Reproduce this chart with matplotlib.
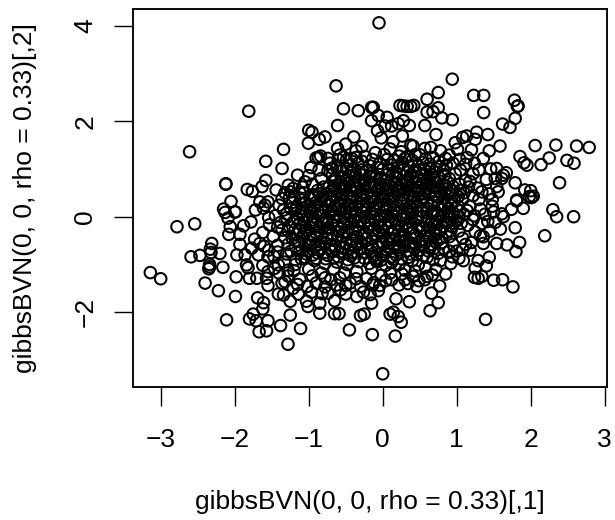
import matplotlib
matplotlib.use("Agg")
import matplotlib.pyplot as plt

plt.rcParams['font.family'] = ['Liberation Sans', 'DejaVu Sans']

x_ticks = [-3, -2, -1, 0, 1, 2, 3]
y_ticks = [-2, 0, 2, 4]
x_label = "gibbsBVN(0, 0, rho = 0.33)[,1]"
y_label = "gibbsBVN(0, 0, rho = 0.33)[,2]"

upper_left = [(-0.63,2.74),(-1.81,2.21),(-2.61,1.36),(-0.53,2.26),(-0.33,2.22),(-0.15,2.29),(-0.15,2.01),(-0.61,1.91),
(-1.0,1.81),(-0.955,1.77),(-0.78,1.67),(-0.857,1.62),(-1.005,1.54),(-0.39,1.67),(-1.34,1.41),(-0.61,1.43),(-0.50,1.52),
(-0.28,1.47),(-1.58,1.16),(-1.36,1.01),(-1.58,0.76),(-1.63,0.63),(-1.83,0.57),(-1.76,0.53),(-2.12,0.69),(-2.12,0.68),
(-2.05,0.32),(-1.15,0.87),(-1.05,0.73),(-1.275,0.66),(-1.21,0.59),(-1.32,0.50),(-1.24,0.52),(-0.97,1.03),(-0.87,1.24),
(-0.90,1.23),(-0.84,1.27),(-0.71,1.12),(-0.60,1.19),(-0.53,1.25),(-0.58,1.29),(-0.49,1.19),(-0.98,0.39),(-1.10,0.35),
(-1.34,0.14),(-1.18,0.14),(-1.66,0.31),(-1.55,0.31),(-1.72,0.14),(-1.61,0.18),(-2.0,0.1)]

upper_right = [(-0.05,4.06),(0.94,2.88),(0.75,2.60),(1.23,2.54),(1.365,2.54),(1.78,2.44),(1.83,2.32),(1.82,2.31),(1.365,2.18),
(0.60,2.46),(0.75,2.28),(0.60,2.19),(0.68,2.20),(0.80,2.07),(0.94,2.03),(0.57,1.91),(0.72,1.72),(0.234,2.33),(0.28,2.32),
(0.33,2.31),(0.38,2.31),(0.42,2.33),(-0.127,2.29),(0.06,2.08),(-0.06,2.12),(0.28,2.01),(0.36,1.91),(0.21,1.95),(0.12,1.90),
(0.03,1.90),(-0.07,1.80),(-0.02,1.65),(0.265,1.69),(0.14,1.57),(0.41,1.48),(0.38,1.50),(0.25,1.36),(0.57,1.43),(0.65,1.45),
(1.62,1.94),(1.72,1.87),(1.79,2.06),(1.42,1.72),(1.27,1.77),(1.135,1.69),(1.08,1.66),(1.25,1.62),(0.98,1.55),(1.01,1.41),
(1.20,1.40),(1.585,1.48),(1.44,1.38),(0.90,1.29),(1.855,1.26),(1.91,1.13),(1.95,1.08),(2.14,1.09),(2.25,1.23),(2.06,1.49),
(2.34,1.50),(2.62,1.48),(2.79,1.45),(2.49,1.18),(2.585,1.12),(2.39,0.71),(1.79,0.71),(1.54,1.01),(1.67,0.92),(1.63,0.87),
(1.61,0.80),(1.56,0.52),(1.54,0.63),(1.92,0.56),(2.0,0.545),(2.035,0.43),(1.98,0.42),(1.81,0.35)]

lower_right = [(2.58,0.0),(2.30,0.147),(2.35,0.0),(2.19,-0.40),(2.01,0.40),(1.90,0.175),(1.74,0.155),(1.81,0.33),(1.63,0.0),
(1.61,0.06),(1.79,-0.23),(1.59,-0.26),(1.85,-0.54),(1.68,-0.59),(1.54,-0.56),(1.80,-0.73),(1.36,-0.56),(1.18,-0.70),(1.44,-0.85),
(1.29,-0.92),(1.40,-1.03),(1.09,-0.92),(1.03,-0.87),(0.94,-0.84),(0.85,-1.20),(1.25,-1.08),(1.24,-1.27),(1.29,-1.29),(1.34,-1.25),
(1.50,-1.33),(1.62,-1.32),(1.76,-1.47),(0.77,-1.45),(0.66,-1.60),(0.75,-1.80),(0.64,-1.97),(1.39,-2.15),(0.36,-1.78),(0.18,-1.72),
(0.22,-1.43),(-0.06,-1.55),(0.04,-1.34),(0.10,-2.04),(0.145,-2.0),(0.21,-2.09),(0.25,-2.21),(0.17,-2.50),(-0.14,-2.47),(0.0,-3.29),
(-0.15,-1.81),(-0.135,-1.43),(0.50,-0.70),(0.75,-0.77),(0.68,-0.90),(0.48,-1.01),(0.57,-1.32),(0.49,-1.34),(0.67,-1.22),(0.60,-1.25),
(0.41,-1.25),(-0.45,-2.37),(-0.17,-1.63)]

lower_left = [(-3.14,-1.17),(-3.0,-1.30),(-2.78,-0.21),(-2.54,-0.15),(-2.59,-0.84),(-2.47,-0.81),(-2.31,-0.56),(-2.33,-0.68),
(-2.32,-0.75),(-2.20,-0.77),(-2.34,-1.0),(-2.35,-1.09),(-2.34,-1.05),(-2.16,-1.06),(-2.40,-1.39),(-2.22,-1.55),(-1.98,-1.26),
(-1.99,-1.67),(-2.11,-2.16),(-1.80,-2.14),(-1.75,-2.04),(-1.71,-2.18),(-1.55,-2.18),(-1.67,-2.41),(-1.57,-2.39),(-1.38,-2.28),
(-1.11,-2.34),(-1.28,-2.67),(-1.25,-2.06),(-1.62,-1.93),(-1.61,-1.80),(-1.69,-1.70),(-1.25,-1.77),(-1.99,0.10),
(-2.15,0.16),(-2.13,0.09),(-2.09,-0.03),(-2.06,-0.21),(-2.08,-0.37),(-1.88,-0.19),(-1.78,-0.11),(-1.53,-0.17),(-1.93,-0.37),
(-1.93,-0.58),(-1.97,-0.80),(-1.86,-0.80),(-1.68,-0.80),(-1.55,-0.84),(-1.84,-1.01),(-1.82,-1.07),(-1.80,-1.29),(-1.70,-1.29),
(-1.57,-1.29),(-1.55,-1.44),(-1.41,-1.62),(-1.34,-1.64),(-1.55,-1.15),(-1.41,-1.01),(-1.36,-1.39),(-1.21,-1.50),(-1.03,-1.77),
(-1.01,-1.88),(-0.85,-1.81),(-0.85,-2.02),(-0.82,-1.61),(-0.65,-1.76),(-0.65,-2.03),(-0.59,-2.03),(-0.30,-2.07),
(-0.25,-2.04),(-0.35,-1.67),(-0.50,-1.62),(-0.57,-1.53),(-1.59,0.24)]

fringe = [(-1.45,0.02),(-1.38,-0.12),(-1.62,-0.33),(-1.48,-0.41),(-1.73,-0.47),(-1.42,-0.60),(-1.60,-0.62),(-1.77,-0.66),(-1.30,-0.78),
(-1.47,-0.83),(-1.33,-0.95),(-1.20,-1.13),(-1.28,-1.24),(-1.12,-1.31),(-1.02,-1.46),(-0.90,-1.39),(-0.78,-1.47),(-0.70,-1.32),
(-0.62,-1.43),(-0.44,-1.39),(-0.30,-1.46),(-0.22,-1.30),(-0.02,-1.23),(0.10,-1.18),(0.30,-1.12),(0.82,-0.66),(0.95,-0.58),(1.08,-0.45),
(1.25,-0.32),(1.34,-0.14),(1.45,-0.30),(1.38,0.05),(1.48,0.22),(1.30,0.36),(1.44,0.48),(1.28,0.60),(1.40,0.78),(1.22,0.90),(1.12,0.76),
(1.05,0.98),(0.86,1.08),(0.95,1.12),(0.76,1.16),(0.58,1.21),(0.40,1.18),(0.22,1.27),(0.06,1.20),(-0.10,1.34),(-0.24,1.26),(-0.36,1.38),
(-0.44,1.08),(-0.74,0.96),(-0.83,0.80),(-0.95,0.68),(-1.12,0.50),(-0.88,0.55),(-1.02,0.22),(-1.22,0.30),(-1.15,-0.05),(-1.28,-0.30),
(1.10,0.50),(1.18,0.22),(1.10,0.05),(1.15,-0.18),(1.03,-0.30),(0.90,-0.42),(0.72,-0.52),(0.60,-0.85),(0.35,-0.85),(0.22,-1.00),(0.04,-1.02),
(-0.15,-1.08),(-0.35,-1.15),(-0.52,-1.18),(-0.66,-1.10),(-0.83,-1.18),(-1.00,-1.10),(-1.10,-0.88)]

center_a = [(-1.05,-0.85),(-0.92,-0.92),(-0.78,-0.98),(-0.62,-0.95),(-0.48,-1.0),(-0.32,-0.94),(-0.18,-0.98),(-0.02,-0.91),(0.12,-0.96),(0.25,-0.88),
(0.40,-0.92),(-1.02,-0.72),(-0.88,-0.76),(-0.74,-0.81),(-0.58,-0.74),(-0.43,-0.82),(-0.27,-0.75),(-0.12,-0.82),(0.04,-0.74),(0.18,-0.80),(0.33,-0.72),
(0.46,-0.79),(0.62,-0.72),(-1.18,-0.62),(-1.05,-0.58),(-0.91,-0.63),(-0.78,-0.56),(-0.64,-0.62),(-0.50,-0.55),(-0.37,-0.63),(-0.21,-0.57),(-0.06,-0.64),
(0.09,-0.56),(0.23,-0.63),(0.38,-0.55),(0.52,-0.62),(0.66,-0.58),(0.80,-0.54),(-1.22,-0.46),(-1.09,-0.42),(-0.96,-0.48),(-0.83,-0.41),(-0.69,-0.47),
(-0.55,-0.40),(-0.41,-0.47),(-0.28,-0.39),(-0.14,-0.46),(0.01,-0.40),(0.15,-0.47),(0.30,-0.40),(0.44,-0.46),(0.58,-0.41),(0.72,-0.38),(0.86,-0.33),
(-1.26,-0.20),(-1.12,-0.28),(-0.99,-0.22),(-0.86,-0.30),(-0.73,-0.24),(-0.60,-0.31),(-0.46,-0.23),(-0.33,-0.30),(-0.19,-0.24),(-0.05,-0.31),(0.08,-0.23),
(0.22,-0.30),(0.36,-0.24),(0.50,-0.30),(0.64,-0.23),(0.78,-0.27),(0.94,-0.21),(-1.06,-0.12),(-0.93,-0.07),(-0.80,-0.14),(-0.66,-0.08),(-0.53,-0.15),
(-0.39,-0.07),(-0.25,-0.14),(-0.11,-0.08),(0.03,-0.15),(0.17,-0.07),(0.31,-0.14),(0.45,-0.08),(0.59,-0.15),(0.73,-0.09),(0.87,-0.13),(1.00,-0.07)]

center_b = [(-1.30,0.06),(-1.13,0.04),(-0.98,0.08),(-0.85,0.02),(-0.71,0.07),(-0.58,0.01),(-0.44,0.08),(-0.30,0.02),(-0.16,0.07),(-0.02,0.01),(0.12,0.08),
(0.26,0.02),(0.40,0.07),(0.54,0.01),(0.68,0.08),(0.82,0.03),(0.96,0.07),(1.24,0.02),(-1.08,0.18),(-0.92,0.22),(-0.78,0.16),(-0.64,0.23),(-0.51,0.17),
(-0.37,0.24),(-0.23,0.16),(-0.09,0.23),(0.05,0.17),(0.19,0.24),(0.33,0.16),(0.47,0.23),(0.61,0.17),(0.75,0.24),(0.89,0.18),(1.02,0.22),(-0.83,0.35),
(-0.70,0.32),(-0.56,0.38),(-0.43,0.31),(-0.29,0.38),(-0.15,0.32),(-0.01,0.39),(0.13,0.31),(0.27,0.38),(0.41,0.32),(0.55,0.39),(0.69,0.31),(0.83,0.38),
(0.97,0.33),(-0.76,0.48),(-0.62,0.52),(-0.48,0.46),(-0.35,0.53),(-0.21,0.47),(-0.07,0.54),(0.07,0.46),(0.21,0.53),(0.35,0.47),(0.49,0.54),(0.63,0.47),
(0.77,0.53),(0.91,0.48),(1.05,0.55),(-0.72,0.64),(-0.58,0.67),(-0.44,0.61),(-0.31,0.68),(-0.17,0.62),(-0.03,0.69),(0.11,0.61),(0.25,0.68),(0.39,0.62),
(0.53,0.69),(0.67,0.62),(0.81,0.68),(0.95,0.63),(-0.64,0.80),(-0.50,0.76),(-0.37,0.83),(-0.23,0.77),(-0.09,0.84),(0.05,0.76),(0.19,0.83),(0.33,0.77),
(0.47,0.84),(0.61,0.78),(0.75,0.84),(0.90,0.80),(-0.56,0.96),(-0.42,0.92),(-0.28,0.98),(-0.14,0.92),(0.00,0.99),(0.14,0.92),(0.28,0.98),(0.42,0.93),
(0.56,0.99),(0.70,0.94),(0.82,0.97),(-0.33,1.12),(-0.18,1.07),(-0.04,1.12),(0.12,1.08),(0.26,1.13),(0.48,1.07),(0.64,1.10)]

center_c = [(-0.98,-0.38),(-0.72,-0.66),(-0.46,-0.70),(-0.20,-0.68),(0.06,-0.70),(0.28,-0.52),(0.54,-0.48),(-1.16,-0.36),(-0.90,-0.15),(-0.62,-0.18),
(-0.34,-0.20),(-0.07,-0.18),(0.20,-0.17),(0.48,-0.19),(0.70,-0.16),(-1.02,-0.02),(-0.76,-0.03),(-0.50,0.10),(-0.24,-0.02),(0.02,0.12),(0.28,-0.03),
(0.52,0.12),(0.78,-0.02),(-0.88,0.12),(-0.58,0.28),(-0.32,0.28),(-0.06,0.28),(0.20,0.12),(0.44,0.28),(0.70,0.12),(0.94,0.28),(-0.66,0.42),(-0.40,0.42),
(-0.12,0.42),(0.16,0.42),(0.42,0.42),(0.72,0.42),(-0.52,0.58),(-0.26,0.58),(0.00,0.58),(0.28,0.58),(0.58,0.58),(0.86,0.58),(-0.46,0.72),(-0.14,0.72),
(0.16,0.72),(0.44,0.72),(0.72,0.72),(-0.30,0.88),(0.06,0.88),(0.38,0.88),(0.66,0.88),(-0.84,-0.52),(-0.56,-0.52),(-0.30,-0.52),(-0.02,-0.52),(0.22,-0.50),
(-0.94,-0.80),(-0.66,-0.86),(-0.38,-0.86),(-0.10,-0.88),(0.12,-0.84),(-0.78,-0.30),(-0.52,-0.34),(-0.24,-0.34),(0.00,-0.30),(0.26,-0.36),(0.60,-0.34)]

center_d = [(-1.03,-0.78),(-0.97,-0.60),(-0.90,-0.87),(-0.83,-0.68),(-0.77,-0.88),(-0.69,-0.73),(-0.60,-0.84),(-0.54,-0.66),(-0.47,-0.90),(-0.40,-0.75),
(-0.34,-0.58),(-0.25,-0.87),(-0.16,-0.72),(-0.08,-0.94),(0.00,-0.82),(0.07,-0.64),(0.14,-0.89),(0.21,-0.70),(0.29,-0.61),(0.37,-0.78),(0.43,-0.66),
(0.55,-0.82),(0.59,-0.52),(0.70,-0.66),(-1.14,-0.52),(-1.06,-0.35),(-0.92,-0.42),(-0.75,-0.46),(-0.61,-0.42),(-0.48,-0.33),(-0.35,-0.42),(-0.22,-0.45),
(-0.09,-0.37),(0.05,-0.50),(0.12,-0.34),(0.25,-0.44),(0.41,-0.33),(0.49,-0.53),(0.63,-0.42),(0.80,-0.44),(0.92,-0.30),(-1.20,-0.10),(-1.08,-0.20),
(-0.96,-0.13),(-0.84,-0.22),(-0.69,-0.16),(-0.56,-0.25),(-0.43,-0.14),(-0.30,-0.10),(-0.17,-0.16),(-0.02,-0.22),(0.11,-0.12),(0.26,-0.20),(0.38,-0.11),
(0.54,-0.24),(0.66,-0.12),(0.81,-0.20),(0.91,-0.05),(1.06,-0.14),(-1.24,0.16),(-1.10,0.10),(-0.94,0.00),(-0.80,0.09),(-0.66,-0.01),(-0.55,0.14),(-0.38,0.00),
(-0.27,0.10),(-0.12,-0.01),(0.07,0.03),(0.15,0.15),(0.33,0.06),(0.47,-0.01),(0.59,0.10),(0.74,0.03),(0.88,0.10),(1.03,0.01),(1.14,0.13),(-1.04,0.30),
(-0.90,0.30),(-0.74,0.24),(-0.60,0.16),(-0.47,0.25),(-0.26,0.24),(-0.13,0.17),(0.02,0.26),(0.24,0.30),(0.37,0.23),(0.52,0.31),(0.66,0.24),(0.80,0.15),
(0.92,0.24),(1.08,0.36),(-0.94,0.46),(-0.81,0.44),(-0.69,0.55),(-0.54,0.46),(-0.42,0.38),(-0.28,0.50),(-0.15,0.40),(-0.02,0.48),(0.11,0.38),(0.26,0.45),
(0.38,0.55),(0.53,0.40),(0.66,0.54),(0.80,0.45),(0.94,0.55),(1.02,0.42),(1.16,0.62),(-0.80,0.62),(-0.65,0.74),(-0.52,0.64),(-0.38,0.74),(-0.24,0.67),(-0.10,0.62),
(0.04,0.66),(0.18,0.56),(0.32,0.72),(0.48,0.62),(0.60,0.72),(0.76,0.62),(0.88,0.72),(1.04,0.68),(-0.68,0.88),(-0.46,0.86),(-0.33,0.74),(-0.18,0.85),(-0.03,0.80),
(0.12,0.74),(0.24,0.88),(0.40,0.82),(0.54,0.88),(0.68,0.82),(0.84,0.88),(0.98,0.90),(-0.62,1.02),(-0.49,1.00),(-0.22,0.96),(-0.07,1.03),(0.08,1.00),(0.21,1.04),
(0.35,1.06),(0.50,0.98),(0.63,1.02),(0.77,1.05),(-0.68,1.02),(-0.36,1.24),(-0.14,1.20),(0.02,1.30),(0.16,1.18),(0.33,1.26),(0.50,1.30),(0.68,1.24),(0.85,1.22)]

center_e = [(-1.12,-0.72),(-1.00,-0.52),(-0.86,-0.58),(-0.70,-0.60),(-0.54,-0.78),(-0.44,-0.60),(-0.30,-0.68),(-0.14,-0.62),(0.00,-0.58),(0.16,-0.62),(0.32,-0.48),
(0.40,-0.62),(0.64,-0.66),(0.76,-0.48),(-1.18,-0.26),(-1.04,-0.28),(-0.90,-0.34),(-0.68,-0.36),(-0.40,-0.32),(-0.12,-0.28),(0.16,-0.28),(0.44,-0.38),(0.70,-0.30),
(0.84,-0.12),(-1.12,-0.14),(-0.76,-0.10),(-0.48,-0.05),(-0.20,-0.08),(0.08,-0.08),(0.38,-0.04),(0.62,-0.05),(0.96,-0.14),(-1.16,0.22),(-0.97,0.16),(-0.68,0.12),
(-0.42,0.14),(-0.10,0.12),(0.10,0.20),(0.40,0.14),(0.66,0.06),(0.84,0.24),(1.04,0.12),(-0.76,0.34),(-0.52,0.32),(-0.20,0.30),(0.08,0.34),(0.34,0.34),(0.60,0.30),
(0.88,0.32),(-0.86,0.48),(-0.58,0.46),(-0.30,0.44),(0.02,0.42),(0.30,0.52),(0.56,0.48),(0.84,0.50),(-0.64,0.60),(-0.36,0.60),(-0.06,0.60),(0.22,0.62),(0.46,0.56),
(0.72,0.60),(-0.56,0.84),(-0.26,0.74),(0.08,0.70),(0.36,0.66),(0.64,0.68),(0.84,0.66),(-0.40,0.98),(-0.12,0.86),(0.18,0.92),(0.44,0.98),(0.72,1.00),(-0.28,1.16),
(0.30,1.22),(0.54,1.14),(-1.32,-0.44),(-1.24,-0.72),(-1.18,-0.90),(-1.36,-0.28),(-1.30,-0.02),(-1.40,0.24),(-1.26,0.40),(-1.42,-0.74),(-1.18,-1.00),(-1.40,-1.18),
(-1.32,-1.36),(-1.15,-1.42),(-0.95,-1.24),(-0.78,-1.28),(-0.58,-1.28),(-0.36,-1.30),(-0.12,-1.38),(0.12,-1.32),(0.30,-1.32),(0.26,-1.20),(0.44,-1.14),(0.58,-1.06),
(0.78,-0.92),(0.90,-0.72),(1.08,-0.68),(1.20,-0.54),(1.32,-0.40),(1.22,-0.06),(1.32,0.16),(1.22,0.44),(1.34,0.52),(1.18,0.74),(1.30,0.98),(1.12,1.10),(1.04,1.20)]

edge_extra = [(-1.08,0.62),(-1.00,0.86),(-0.86,0.98),(-0.92,0.40),(-1.20,0.42),(-0.74,1.22),(-0.42,1.22),(0.10,1.42),(0.44,1.30),(0.78,1.38),(1.14,1.24),(1.24,1.12),
(1.36,1.22),(1.46,1.00),(1.52,0.80),(1.48,0.36),(1.50,0.10),(1.42,-0.10),(1.52,-0.12),(1.36,-0.42),(1.12,-0.58),(1.00,-0.72),(0.92,-0.98),(0.72,-1.10),(0.46,-1.46),
(0.34,-1.40),(-0.04,-1.44),(-0.26,-1.58),(-0.50,-1.44),(-0.74,-1.60),(-0.96,-1.58),(-1.14,-1.62),(-1.28,-1.12),(-1.46,-1.08),(-1.62,-1.02),(-1.66,-0.56),(-1.54,-0.70),
(-1.28,-0.58),(-1.42,-0.22),(-1.54,-0.02),(-1.36,0.38),(-1.44,0.56),(-1.06,0.50)]

all_points = upper_left + upper_right + lower_right + lower_left + fringe + center_a + center_b + center_c + center_d + center_e + edge_extra
x_values = [p[0] for p in all_points]
y_values = [p[1] for p in all_points]

W, H = 615, 520
fig = plt.figure(figsize=(W/100, H/100), dpi=100)
L, R, T, B = 132.7, 607.3, 9.3, 387.3
ax = fig.add_axes([L/W, 1-B/H, (R-L)/W, (B-T)/H])

ax.scatter(x_values, y_values, s=69, facecolors='none', edgecolors='black', linewidths=1.45, clip_on=False, zorder=3)

ax.set_xlim((L-382.7)/74, (R-382.7)/74)
ax.set_ylim((216.7-B)/47.75, (216.7-T)/47.75)
ax.set_xticks(x_ticks)
ax.set_yticks(y_ticks)
ax.set_xticklabels(["\u2212"+str(-v) if v < 0 else str(v) for v in x_ticks])
ax.set_yticklabels(["\u2212"+str(-v) if v < 0 else str(v) for v in y_ticks], rotation=90, va='center')
ax.tick_params(length=13.5, width=1.0, labelsize=19)
ax.tick_params(axis='x', pad=16)
ax.tick_params(axis='y', pad=12)
for s in ax.spines.values():
    s.set_linewidth(1.35)
fig.text((L+R)/2/W, 1-502/H, x_label, ha='center', va='center', fontsize=19)
fig.text(25/W, 1-(T+B)/2/H, y_label, rotation=90, ha='center', va='center', fontsize=19)
fig.savefig("out.png", dpi=100)
